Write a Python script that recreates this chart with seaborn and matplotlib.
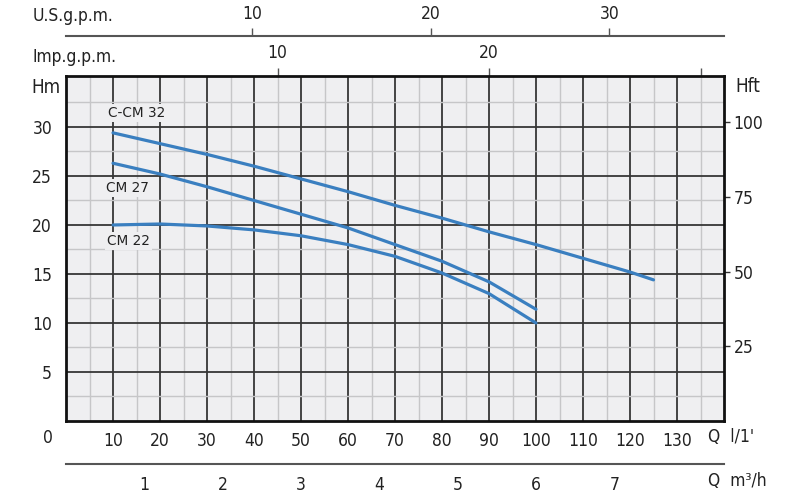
import matplotlib
matplotlib.use("Agg")
import matplotlib.pyplot as plt
import seaborn as sns
import pandas as pd

# ---- data (Q in l/min, H in m) ----
q_cccm32 = [10, 20, 30, 40, 50, 60, 70, 80, 90, 100, 110, 120, 125]
h_cccm32 = [29.4, 28.3, 27.2, 26.0, 24.7, 23.4, 22.0, 20.7, 19.3, 18.0, 16.6, 15.2, 14.4]
q_cm27 = [10, 20, 30, 40, 50, 60, 70, 80, 90, 100]
h_cm27 = [26.3, 25.2, 23.9, 22.5, 21.1, 19.7, 18.0, 16.3, 14.2, 11.4]
q_cm22 = [10, 20, 30, 40, 50, 60, 70, 80, 90, 100]
h_cm22 = [20.0, 20.1, 19.9, 19.5, 18.9, 18.0, 16.8, 15.1, 13.0, 10.0]
models = ["C-CM 32", "CM 27", "CM 22"]

q_ticks = [10, 20, 30, 40, 50, 60, 70, 80, 90, 100, 110, 120, 130]
h_ticks = [5, 10, 15, 20, 25, 30]
hft_ticks = [25, 50, 75, 100]
usgpm_ticks = [10, 20, 30]
impgpm_ticks = [10, 20, 30]
impgpm_labels = ["10", "20", ""]
m3h_ticks = [1, 2, 3, 4, 5, 6, 7, 8]
m3h_labels = ["1", "2", "3", "4", "5", "6", "7", ""]

df = pd.concat([
    pd.DataFrame({"Q": q_cccm32, "H": h_cccm32, "model": models[0]}),
    pd.DataFrame({"Q": q_cm27, "H": h_cm27, "model": models[1]}),
    pd.DataFrame({"Q": q_cm22, "H": h_cm22, "model": models[2]}),
])

sns.set_theme(style="white")
plt.rcParams["font.family"] = ["DejaVu Sans"]

TXT = "#222222"
BG = "#efeff1"
CURVE = "#3a7fc0"
AXC = "#555555"
tfont = dict(family="DejaVu Sans", stretch="condensed", size=12.5)

fig = plt.figure(figsize=(8, 5), dpi=100)
fig.patch.set_facecolor("white")
L, W = 66 / 800, 658 / 800
ax = fig.add_axes([L, 79 / 500, W, 345 / 500])
ax.set_facecolor(BG)

sns.lineplot(data=df, x="Q", y="H", hue="model", palette=[CURVE] * 3,
             linewidth=2.3, legend=False, ax=ax, sort=False)

ax.set_xlim(0, 140)
ax.set_ylim(0, 35.2)
ax.set_xticks(q_ticks)
ax.set_xticks([5 + 10 * i for i in range(14)], minor=True)
ax.set_yticks(h_ticks)
ax.set_yticks([2.5 + 5 * i for i in range(7)], minor=True)
ax.grid(which="major", color="#363636", linewidth=1.3)
ax.grid(which="minor", color="#c6c6c8", linewidth=1.0)
ax.set_axisbelow(True)
ax.tick_params(which="both", length=0)
ax.tick_params(axis="x", pad=8, labelcolor=TXT)
ax.tick_params(axis="y", pad=10, labelcolor=TXT)
for lab in ax.get_xticklabels() + ax.get_yticklabels():
    lab.set_fontproperties(matplotlib.font_manager.FontProperties(**tfont))
for s in ax.spines.values():
    s.set_visible(True)
    s.set_color("#111111")
    s.set_linewidth(2.0)
ax.set_xlabel("")
ax.set_ylabel("")

# right axis in feet
sec_y = ax.secondary_yaxis("right", functions=(lambda m: m * 3.281, lambda f: f / 3.281))
sec_y.set_yticks(hft_ticks)
sec_y.tick_params(length=4, width=1, color="#333333", pad=3, labelcolor=TXT)
for lab in sec_y.get_yticklabels():
    lab.set_fontproperties(matplotlib.font_manager.FontProperties(**tfont))
sec_y.spines["right"].set_visible(False)

# top Imp. gpm axis
sec_x = ax.secondary_xaxis("top", functions=(lambda q: q / 4.5, lambda g: g * 4.5))
sec_x.set_xticks(impgpm_ticks)
sec_x.set_xticklabels(impgpm_labels)
sec_x.tick_params(length=6, width=1, color=AXC, pad=4, labelcolor=TXT)
for lab in sec_x.get_xticklabels():
    lab.set_fontproperties(matplotlib.font_manager.FontProperties(**tfont))
sec_x.spines["top"].set_visible(False)

# U.S. gpm axis
ax_us = fig.add_axes([L, 1 - 36 / 500, W, 0.0001])
ax_us.set_xlim(-0.43, 36.43)
ax_us.set_yticks([])
ax_us.xaxis.tick_top()
ax_us.set_xticks(usgpm_ticks)
ax_us.tick_params(axis="x", length=6, width=1, color=AXC, pad=3, labelcolor=TXT)
for lab in ax_us.get_xticklabels():
    lab.set_fontproperties(matplotlib.font_manager.FontProperties(**tfont))
for k, s in ax_us.spines.items():
    s.set_visible(k == "top")
ax_us.spines["top"].set_color(AXC)
ax_us.spines["top"].set_linewidth(1.5)
ax_us.patch.set_visible(False)

# m3/h axis
ax_m3 = fig.add_axes([L, 36 / 500, W, 0.0001])
ax_m3.set_xlim(0, 140 * 0.06)
ax_m3.set_yticks([])
ax_m3.set_xticks(m3h_ticks)
ax_m3.set_xticklabels(m3h_labels)
ax_m3.tick_params(axis="x", length=5, width=1, color=AXC, pad=4, labelcolor=TXT)
for lab in ax_m3.get_xticklabels():
    lab.set_fontproperties(matplotlib.font_manager.FontProperties(**tfont))
for k, s in ax_m3.spines.items():
    s.set_visible(k == "bottom")
ax_m3.spines["bottom"].set_color(AXC)
ax_m3.spines["bottom"].set_linewidth(1.5)
ax_m3.patch.set_visible(False)

# curve labels
lbl_pos = {"C-CM 32": (15.1, 31.4), "CM 27": (13.0, 23.8), "CM 22": (13.2, 18.4)}
for name in models:
    x, y = lbl_pos[name]
    ax.text(x, y, name, ha="center", va="center", fontsize=9.8, color=TXT,
            bbox=dict(facecolor=BG, edgecolor="none", pad=1.5))

# other labels
def ft(x, y, s, ha="left", size=12.5):
    fig.text(x / 800, 1 - y / 500, s, ha=ha, va="center", color=TXT,
             family="DejaVu Sans", stretch="condensed", size=size)

ft(33, 16, "U.S.g.p.m.")
ft(33, 57, "Imp.g.p.m.")
ft(46, 88, "Hm", ha="center", size=13.5)
ft(748, 87, "Hft", ha="center", size=13.5)
ft(48, 438, "0", ha="center")
ft(708, 437, "Q  l/1'")
ft(708, 481, "Q  m³/h")

fig.savefig("out.png", dpi=100)
